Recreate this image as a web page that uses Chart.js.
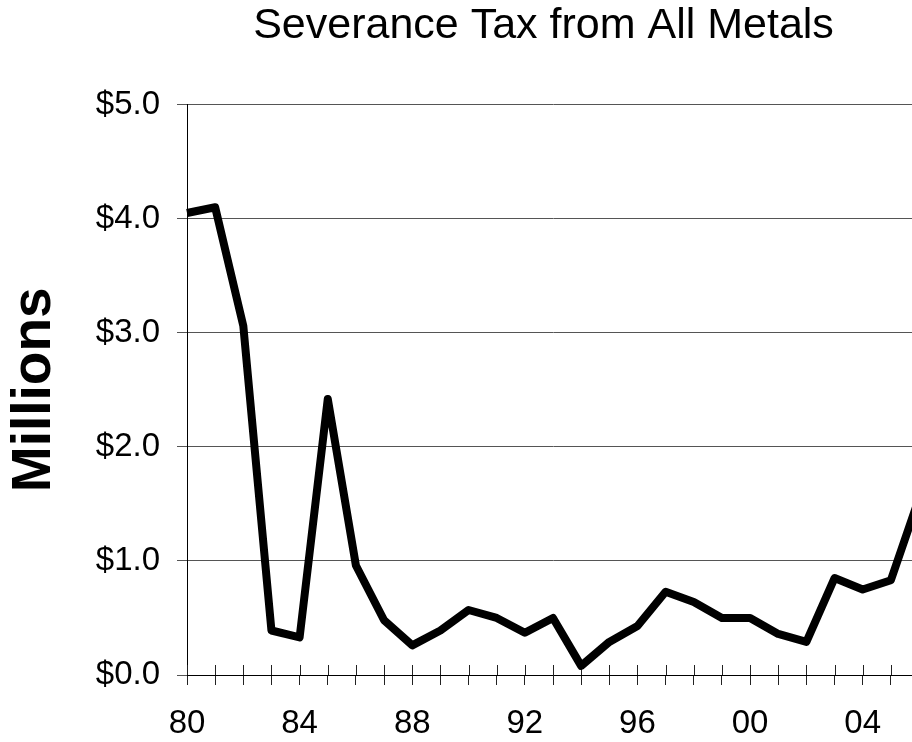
<!DOCTYPE html>
<html>
<head>
<meta charset="utf-8">
<title>Severance Tax from All Metals</title>
<script src="https://cdn.jsdelivr.net/npm/chart.js@4/dist/chart.umd.min.js"></script>
<style>
  html, body { margin: 0; padding: 0; background: #fff; overflow: hidden; }
  #wrap { width: 912px; height: 742px; overflow: hidden; }
  canvas { display: block; }
</style>
</head>
<body>
<div id="wrap"><canvas id="chart" width="1087" height="742"></canvas></div>
<script>
// Fiscal years (two-digit labels) and severance tax collected, in $ millions
const years = ['80','81','82','83','84','85','86','87','88','89','90','91','92','93',
               '94','95','96','97','98','99','00','01','02','03','04','05','06'];
const taxMillions = [4.05, 4.10, 3.06, 0.39, 0.33, 2.42, 0.96, 0.48, 0.26, 0.39,
                     0.57, 0.50, 0.37, 0.50, 0.08, 0.29, 0.43, 0.73, 0.64, 0.50,
                     0.50, 0.36, 0.29, 0.85, 0.75, 0.83, 1.55];
// Value axis range and step
const yMin = 0;
const yMax = 5;
const yStep = 1;
// Every fourth year carries a label
const labelEvery = 4;

const FONT = "'Liberation Sans', Arial, Helvetica, sans-serif";

// Year tick marks cross the category axis: draw the upper half here,
// the lower half comes from the scale's own tick marks.
const crossTicks = {
  id: 'crossTicks',
  beforeDatasetsDraw(chart) {
    const x = chart.scales.x;
    const ctx = chart.ctx;
    ctx.save();
    ctx.strokeStyle = '#222';
    ctx.lineWidth = 1;
    ctx.beginPath();
    x.ticks.forEach((t, i) => {
      const px = Math.round(x.getPixelForTick(i)) + 0.5;
      ctx.moveTo(px, x.top);
      ctx.lineTo(px, x.top - 10);
    });
    ctx.stroke();
    ctx.restore();
  }
};

new Chart(document.getElementById('chart'), {
  type: 'line',
  data: {
    labels: years,
    datasets: [{
      data: taxMillions,
      borderColor: '#000',
      borderWidth: 8,
      borderJoinStyle: 'round',
      borderCapStyle: 'butt',
      pointRadius: 0,
      tension: 0,
      fill: false
    }]
  },
  options: {
    responsive: false,
    animation: false,
    layout: { padding: 0 },
    plugins: {
      legend: { display: false },
      tooltip: { enabled: false },
      title: {
        display: true,
        text: 'Severance Tax from All Metals',
        color: '#000',
        font: { family: FONT, size: 43, weight: 'normal', lineHeight: 1.2 },
        padding: { top: 0, bottom: 53 }
      }
    },
    scales: {
      x: {
        type: 'category',
        offset: false,
        border: { display: true, color: '#000', width: 1 },
        grid: {
          display: true,
          drawOnChartArea: false,
          drawTicks: true,
          tickLength: 10,
          color: '#222'
        },
        ticks: {
          autoSkip: false,
          maxRotation: 0,
          minRotation: 0,
          padding: 19,
          color: '#000',
          font: { family: FONT, size: 33 },
          callback(value, index) {
            return index % labelEvery === 0 ? years[index] : '';
          }
        },
        afterFit(scale) { scale.height = 67; }
      },
      y: {
        min: yMin,
        max: yMax,
        border: { display: true, color: '#000', width: 1 },
        grid: {
          display: true,
          drawOnChartArea: true,
          drawTicks: true,
          tickLength: 10,
          color: '#555'
        },
        ticks: {
          stepSize: yStep,
          padding: 17,
          color: '#000',
          font: { family: FONT, size: 33 },
          callback(value) { return '$' + Number(value).toFixed(1); }
        },
        title: {
          display: true,
          text: 'Millions',
          color: '#000',
          font: { family: FONT, size: 55, weight: 'bold', lineHeight: 1.2 },
          padding: { top: 2, bottom: 0 }
        },
        afterFit(scale) { scale.width = 187; }
      },
      // Empty strip to the right of the plot, past the visible edge
      yRight: {
        position: 'right',
        display: true,
        min: yMin,
        max: yMax,
        border: { display: false },
        grid: { display: false, drawTicks: false },
        ticks: { display: false },
        afterFit(scale) { scale.width = 168; }
      }
    }
  },
  plugins: [crossTicks]
});
</script>
</body>
</html>
